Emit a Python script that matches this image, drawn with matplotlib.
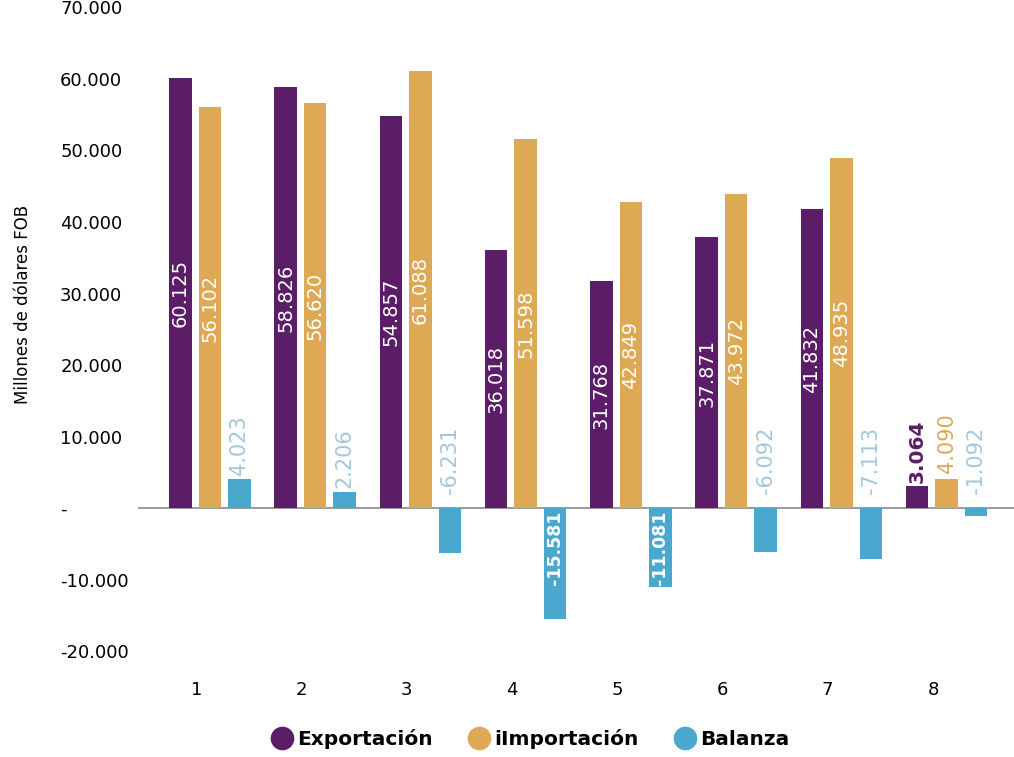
import numpy as np
import matplotlib.pyplot as plt
from matplotlib.lines import Line2D

# Font settings
plt.rc('font', family='DejaVu Sans', size=13)

# Data (millones de dólares FOB)
periodos = ['1', '2', '3', '4', '5', '6', '7', '8']
exportacion = [60125, 58826, 54857, 36018, 31768, 37871, 41832, 3064]
importacion = [56102, 56620, 61088, 51598, 42849, 43972, 48935, 4090]
balanza = [4023, 2206, -6231, -15581, -11081, -6092, -7113, -1092]
ytick_values = [-20000, -10000, 0, 10000, 20000, 30000, 40000, 50000, 60000, 70000]
series_names = ['Exportación', 'iImportación', 'Balanza']

c_exp = '#5b1d68'
c_imp = '#dea955'
c_bal = '#4aa7cd'
c_bal_txt = '#a3c7da'


def fmt(v):
    return '{:,}'.format(v).replace(',', '.')


fig = plt.figure(figsize=(10.14, 7.57), dpi=100)
ax = fig.add_axes([0.136, 0.1116, 0.864, 0.888])

x = np.arange(1, len(periodos) + 1)
step = 0.28
width = 0.215

b_exp = ax.bar(x - step, exportacion, width, color=c_exp)
b_imp = ax.bar(x, importacion, width, color=c_imp)
b_bal = ax.bar(x + step, balanza, width, color=c_bal)

# Labels for exportacion / importacion
for xi, v in zip(x - step, exportacion):
    if v > 10000:
        ax.text(xi, v / 2, fmt(v), rotation=90, color='white', ha='center',
                va='center', fontsize=14)
    else:
        ax.annotate(fmt(v), (xi, v), xytext=(0, 2), textcoords='offset points',
                    rotation=90, color=c_exp, ha='center', va='bottom',
                    fontsize=14.5, fontweight='bold')
for xi, v in zip(x, importacion):
    if v > 10000:
        ax.text(xi, v / 2, fmt(v), rotation=90, color='white', ha='center',
                va='center', fontsize=14)
    else:
        ax.annotate(fmt(v), (xi, v), xytext=(0, 4), textcoords='offset points',
                    rotation=90, color=c_imp, ha='center', va='bottom',
                    fontsize=15)

# Labels for balanza
for xi, v in zip(x + step, balanza):
    if v >= 0:
        ax.annotate(fmt(v), (xi, v), xytext=(0, 3), textcoords='offset points',
                    rotation=90, color=c_bal_txt, ha='center', va='bottom',
                    fontsize=15)
    elif v > -10000:
        ax.annotate(fmt(v), (xi, 0), xytext=(0, 10), textcoords='offset points',
                    rotation=90, color=c_bal_txt, ha='center', va='bottom',
                    fontsize=15)
    else:
        ax.annotate(fmt(v), (xi, 0), xytext=(0, -2), textcoords='offset points',
                    rotation=90, color='white', ha='center', va='top',
                    fontsize=12.5, fontweight='bold')

# Zero line
ax.axhline(0, color='#8a8a8a', linewidth=1.2, zorder=0)

# Axes styling
ax.set_xlim(0.316, 8.64)
ax.set_ylim(-23000, 71000)
for s in ax.spines.values():
    s.set_visible(False)

ax.set_xticks(x - 0.13)
ax.set_xticklabels(periodos)
ax.tick_params(axis='x', length=0, pad=6, labelsize=13)

ax.set_yticks(ytick_values)
ax.set_yticklabels(['-' if v == 0 else fmt(v) for v in ytick_values])
ax.tick_params(axis='y', length=0, pad=56, labelsize=13)
for lab in ax.get_yticklabels():
    lab.set_horizontalalignment('left')

fig.text(23 / 1014, 1 - 304 / 757, 'Millones de dólares FOB', rotation=90,
         ha='center', va='center', fontsize=12)

# Legend with circle markers
handles = [Line2D([], [], marker='o', linestyle='none', markersize=16, color=c)
           for c in (c_exp, c_imp, c_bal)]
fig.legend(handles, series_names, loc='center', bbox_to_anchor=(0.522, 0.024),
           ncol=3, frameon=False, handletextpad=0.15, columnspacing=1.7,
           handlelength=1.2, prop={'size': 14.5, 'weight': 'bold'})

plt.savefig('out.png', dpi=100)
plt.close()
